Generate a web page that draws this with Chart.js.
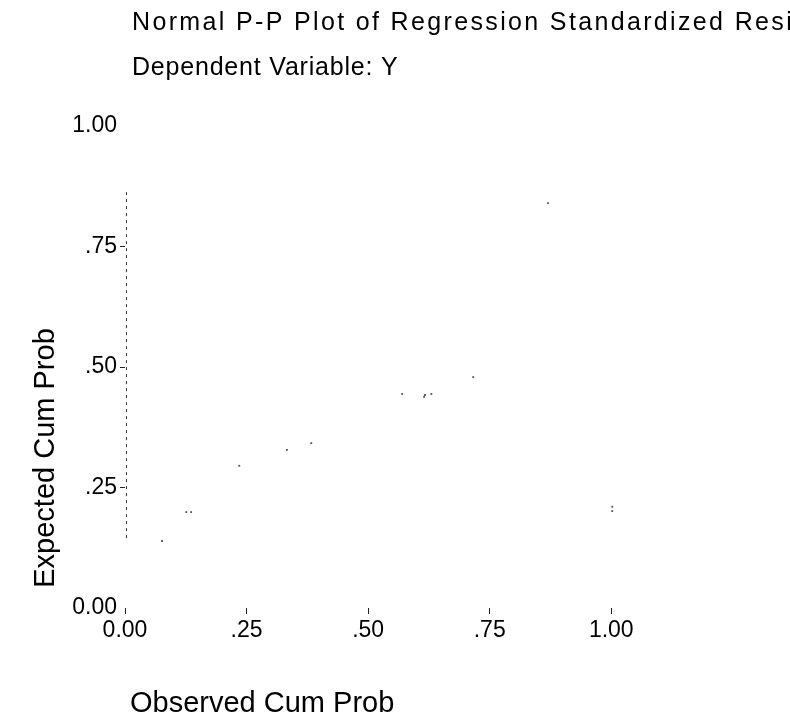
<!DOCTYPE html>
<html>
<head>
<meta charset="utf-8">
<script src="https://cdn.jsdelivr.net/npm/chart.js@4.4.1/dist/chart.umd.min.js"></script>
<style>
html,body{margin:0;padding:0;background:#fff;}
#wrap{width:790px;height:723px;position:relative;}
</style>
</head>
<body>
<div id="wrap"><canvas id="c" width="790" height="723"></canvas></div>
<script>
// ---- data ----
const chartTitle = 'Normal P-P Plot of Regression Standardized Residual';
const chartSubtitle = 'Dependent Variable: Y';
const xAxisTitle = 'Observed Cum Prob';
const yAxisTitle = 'Expected Cum Prob';
const tickValues = [0, 0.25, 0.5, 0.75, 1];
const tickLabels = ['0.00', '.25', '.50', '.75', '1.00'];
const observedCumProb = [0.076, 0.126, 0.136, 0.235, 0.333, 0.383, 0.570, 0.615, 0.617, 0.630, 0.716, 0.870, 1.002, 1.002];
const expectedCumProb = [0.139, 0.199, 0.199, 0.295, 0.328, 0.342, 0.444, 0.438, 0.442, 0.444, 0.479, 0.840, 0.210, 0.201];
const axisTraceX = [0.003, 0.003];
const axisTraceY = [0.145, 0.863];

const FONT = '"Liberation Sans", Arial, sans-serif';

function spaced(ctx, px) {
  if ('letterSpacing' in ctx) ctx.letterSpacing = px + 'px';
}

const textPlugin = {
  id: 'ppTexts',
  afterDraw(chart) {
    const ctx = chart.ctx;
    ctx.save();
    ctx.fillStyle = '#000';
    ctx.textAlign = 'left';
    ctx.textBaseline = 'alphabetic';
    ctx.font = '25px ' + FONT;
    spaced(ctx, 2.35);
    ctx.fillText(chartTitle, 132, 30);
    spaced(ctx, 0.8);
    ctx.fillText(chartSubtitle, 132, 75);
    ctx.font = '29px ' + FONT;
    spaced(ctx, 0);
    ctx.fillText(xAxisTitle, 130, 712);
    ctx.translate(54, 458);
    ctx.rotate(-Math.PI / 2);
    ctx.textAlign = 'center';
    ctx.fillText(yAxisTitle, 0, 0);
    ctx.restore();
  }
};

const points = observedCumProb.map((x, i) => ({ x: x, y: expectedCumProb[i] }));
const trace = axisTraceX.map((x, i) => ({ x: x, y: axisTraceY[i] }));

function tickLabel(v) {
  const i = tickValues.findIndex(t => Math.abs(t - v) < 1e-9);
  return i >= 0 ? tickLabels[i] : '';
}

new Chart(document.getElementById('c'), {
  type: 'scatter',
  data: {
    datasets: [
      {
        label: 'Cases',
        data: points,
        pointStyle: 'rect',
        pointRadius: 1.3,
        pointHoverRadius: 1.3,
        backgroundColor: '#555',
        borderWidth: 0,
        showLine: false,
        clip: false
      },
      {
        label: 'Axis trace',
        data: trace,
        showLine: true,
        borderColor: '#333',
        borderWidth: 1,
        borderDash: [3, 4],
        pointRadius: 0,
        clip: false
      }
    ]
  },
  options: {
    responsive: false,
    animation: false,
    devicePixelRatio: 1,
    layout: { padding: { top: 126, right: 169, bottom: 0, left: 0 } },
    plugins: {
      legend: { display: false },
      tooltip: { enabled: false },
      title: { display: false }
    },
    scales: {
      x: {
        type: 'linear',
        min: 0,
        max: 1.02,
        afterBuildTicks: s => { s.ticks = tickValues.map(v => ({ value: v })); },
        afterFit: s => { s.height = 115; },
        ticks: {
          callback: v => tickLabel(v),
          font: { family: FONT, size: 23 },
          color: '#000',
          padding: 3,
          maxRotation: 0
        },
        grid: {
          drawOnChartArea: false,
          drawTicks: true,
          tickLength: 6,
          color: '#222',
          lineWidth: 1
        },
        border: { display: false }
      },
      y: {
        type: 'linear',
        min: 0,
        max: 1,
        afterBuildTicks: s => { s.ticks = tickValues.map(v => ({ value: v })); },
        afterFit: s => { s.width = 125; },
        ticks: {
          callback: v => tickLabel(v),
          font: { family: FONT, size: 23 },
          color: '#000',
          padding: 3
        },
        grid: {
          drawOnChartArea: false,
          drawTicks: true,
          tickLength: 5,
          color: c => (c.tick && (c.tick.value === 0 || c.tick.value === 1)) ? 'rgba(0,0,0,0)' : '#222',
          lineWidth: 1
        },
        border: { display: false }
      }
    }
  },
  plugins: [textPlugin]
});
</script>
</body>
</html>
